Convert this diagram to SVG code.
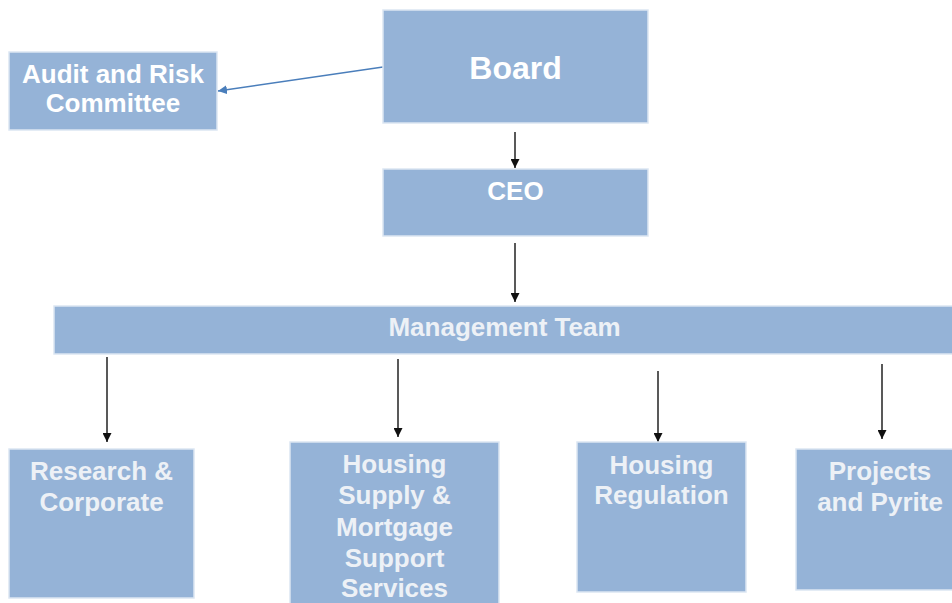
<svg xmlns="http://www.w3.org/2000/svg" width="952" height="603" viewBox="0 0 952 603">
  <style>
    .box { fill: #95b3d7; stroke: #dce6f2; stroke-width: 1.5; }
    .t { font-family: "Liberation Sans", Arial, sans-serif; font-weight: bold; font-size: 26px; text-anchor: middle; fill: #ffffff; }
    .big { font-size: 32px; }
    .t2 { fill: #edf1f6; }
    .link { fill: none; stroke: #222222; stroke-width: 1.5; }
  </style>
  <defs>
    <marker id="ah" viewBox="0 0 10 10" refX="10" refY="5" markerWidth="9" markerHeight="9" markerUnits="userSpaceOnUse" orient="auto">
      <path d="M0,0 L10,5 L0,10 Z" fill="#111111"/>
    </marker>
    <marker id="ahBlue" viewBox="0 0 10 10" refX="10" refY="5" markerWidth="9" markerHeight="9" markerUnits="userSpaceOnUse" orient="auto">
      <path d="M0,0 L10,5 L0,10 Z" fill="#4a7ebb"/>
    </marker>
  </defs>
  <rect width="952" height="603" fill="#ffffff"/>

  <g id="connectors">
    <line x1="383" y1="67" x2="218" y2="91" stroke="#4a7ebb" stroke-width="1.5" marker-end="url(#ahBlue)"/>
    <line class="link" x1="515" y1="132" x2="515" y2="168" marker-end="url(#ah)"/>
    <line class="link" x1="515" y1="243" x2="515" y2="302" marker-end="url(#ah)"/>
    <line class="link" x1="107" y1="357" x2="107" y2="442" marker-end="url(#ah)"/>
    <line class="link" x1="398" y1="359" x2="398" y2="437" marker-end="url(#ah)"/>
    <line class="link" x1="658" y1="371" x2="658" y2="442" marker-end="url(#ah)"/>
    <line class="link" x1="882" y1="364" x2="882" y2="439" stroke="#777777" marker-end="url(#ah)"/>
  </g>

  <g id="board">
    <rect class="box" x="383" y="10" width="265" height="113"/>
    <text class="t big" x="515.5" y="79">Board</text>
  </g>

  <g id="audit-risk">
    <rect class="box" x="9" y="52" width="208" height="78"/>
    <text class="t" x="113" y="83">Audit and Risk</text>
    <text class="t" x="113" y="112">Committee</text>
  </g>

  <g id="ceo">
    <rect class="box" x="383" y="169" width="265" height="67"/>
    <text class="t" x="515.5" y="200">CEO</text>
  </g>

  <g id="management-team">
    <rect class="box" x="54" y="306" width="904" height="48"/>
    <text class="t t2" x="504.5" y="336">Management Team</text>
  </g>

  <g id="research-corporate">
    <rect class="box" x="9" y="449" width="185" height="149"/>
    <text class="t t2" x="101.5" y="480">Research &amp;</text>
    <text class="t t2" x="101.5" y="511">Corporate</text>
  </g>

  <g id="housing-supply">
    <rect class="box" x="290" y="442" width="209" height="170"/>
    <text class="t t2" x="394.5" y="473">Housing</text>
    <text class="t t2" x="394.5" y="504">Supply &amp;</text>
    <text class="t t2" x="394.5" y="536">Mortgage</text>
    <text class="t t2" x="394.5" y="567">Support</text>
    <text class="t t2" x="394.5" y="597">Services</text>
  </g>

  <g id="housing-regulation">
    <rect class="box" x="577" y="442" width="169" height="150"/>
    <text class="t t2" x="661.5" y="474">Housing</text>
    <text class="t t2" x="661.5" y="504">Regulation</text>
  </g>

  <g id="projects-pyrite">
    <rect class="box" x="796" y="449" width="168" height="141"/>
    <text class="t t2" x="880" y="480">Projects</text>
    <text class="t t2" x="880" y="511">and Pyrite</text>
  </g>
</svg>
